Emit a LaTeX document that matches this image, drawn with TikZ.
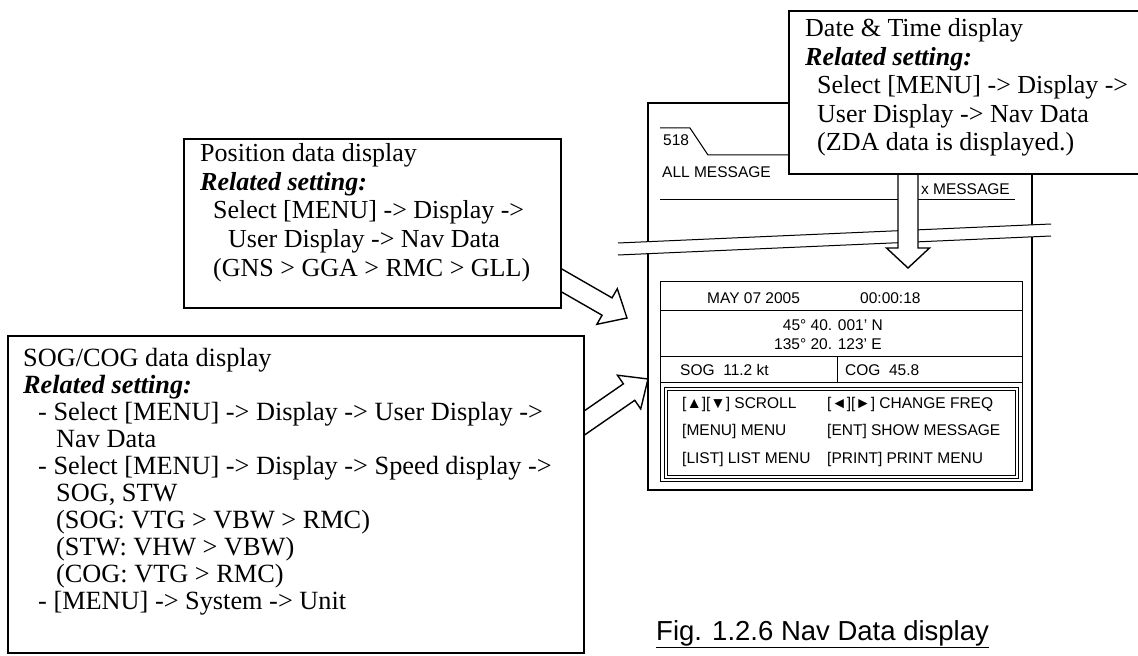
\documentclass[tikz,border=0pt]{standalone}
\usepackage{fontspec}
\setmainfont{Liberation Serif}
\newfontfamily\arialf{Liberation Sans}
\usetikzlibrary{calc}
\newcommand\boxfont{\fontsize{26bp}{28.5bp}\selectfont}
\newcommand\sogfont{\fontsize{26.3bp}{27bp}\selectfont}
\newcommand\dispfont{\arialf\fontsize{15.5bp}{18bp}\selectfont}
\newcommand\capfont{\arialf\fontsize{27.5bp}{31bp}\selectfont}
\newcommand\bfit[1]{\textbf{\textit{#1}}}
\newcommand\linestack[2]{\vtop{\baselineskip=#1\lineskiplimit=-100bp\lineskip=0bp #2}}
\newcommand\blockarrow[5]{%
  \coordinate (bA) at ($(#2)!#5!(#1)$);
  \draw[barrow] ($(#1)!#3!90:(#2)$) -- ($(bA)!#3!-90:(#1)$) -- ($(bA)!#4!-90:(#1)$) -- (#2)
    -- ($(bA)!#4!90:(#1)$) -- ($(bA)!#3!90:(#1)$) -- ($(#1)!#3!-90:(#2)$) -- cycle;
}
\tikzset{
  frameline/.style={draw=black, line width=1.2bp},
  thinline/.style={draw=black, line width=1bp},
  tbox/.style={draw=black, line width=1.6bp, fill=white, inner sep=0pt, anchor=north west},
  barrow/.style={draw=black, line width=1.4bp, fill=white, line join=miter},
  dtext/.style={font=\dispfont, inner sep=0pt, anchor=base west},
  btext/.style={font=\boxfont, inner sep=0pt, anchor=base west},
}
\begin{document}
\begin{tikzpicture}[x=1bp,y=-1bp]
\useasboundingbox (0,0) rectangle (1138,656);
% ---------- display unit ----------
\draw[frameline, fill=white] (648,103) rectangle (1032,490);
\draw[thinline] (660,128) -- (690,128) -- (708,155) -- (1020,155);
\node[dtext] (t518) at (663,146) {518};
\node[dtext] (tall) at (662,178) {ALL MESSAGE};
\node[dtext, anchor=base east] (txm) at (1010,195) {x MESSAGE};
\draw[thinline] (660,199) -- (1015,199);
% inner display
\draw[thinline] (660,281) rectangle (1022,481);
\draw[thinline] (660,310) -- (1022,310);
\draw[thinline] (660,356) -- (1022,356);
\draw[thinline] (660,382) -- (1022,382);
\draw[thinline] (837,356) -- (837,382);
\draw[thinline] (664,387) rectangle (1018,478);
\draw[thinline] (667,390) rectangle (1015,475);
\node[dtext] (tdate) at (707,303) {MAY 07 2005};
\node[dtext] (ttime) at (860,303) {00:00:18};
\node[dtext, anchor=base east] (tlat) at (883,330) {45° 40. 001’ N};
\node[dtext, anchor=base east] (tlon) at (882,349) {135° 20. 123’ E};
\node[dtext] (tsog) at (680,375) {SOG\ \ 11.2 kt};
\node[dtext] (tcog) at (845,375) {COG\ \ 45.8};
\node[dtext] (k1) at (682,408) {[▲][▼] SCROLL};
\node[dtext] (k2) at (827,408) {[◄][►] CHANGE FREQ};
\node[dtext] (k3) at (682,435) {[MENU] MENU};
\node[dtext] (k4) at (827,435) {[ENT] SHOW MESSAGE};
\node[dtext] (k5) at (682,463) {[LIST] LIST MENU};
\node[dtext] (k6) at (827,463) {[PRINT] PRINT MENU};
% break
\fill[white] (618,243) -- (1051,224) -- (1051,236) -- (618,255) -- cycle;
\draw[thinline] (618,243) -- (1051,224);
\draw[thinline] (618,255) -- (1051,236);
% ---------- block arrows ----------
\coordinate (dS) at (908,160);
\coordinate (dT) at (908,268);
\blockarrow{dS}{dT}{10bp}{21.5bp}{20bp}
\coordinate (pS) at (540,268);
\coordinate (pT) at (627,318);
\blockarrow{pS}{pT}{10bp}{20.5bp}{23bp}
\coordinate (sS) at (563,437.7);
\coordinate (sT) at (648,379);
\blockarrow{sS}{sT}{10bp}{20.5bp}{23bp}
% ---------- text boxes ----------
\node[tbox, minimum width=362bp, minimum height=163bp] (dbox) at (788,10) {};
\node[btext] (dtxt) at (805,37) {\linestack{28.5bp}{%
  \hbox{Date \& Time display}
  \hbox{\bfit{Related setting:}}
  \hbox{\kern12bp Select [MENU] -> Display ->}
  \hbox{\kern12bp User Display -> Nav Data}
  \hbox{\kern12bp (ZDA data is displayed.)}}};
\node[tbox, minimum width=377bp, minimum height=169bp] (pbox) at (183,138) {};
\node[btext] (ptxt) at (200,162) {\linestack{28.5bp}{%
  \hbox{Position data display}
  \hbox{\bfit{Related setting:}}
  \hbox{\kern13bp Select [MENU] -> Display ->}
  \hbox{\kern28bp User Display -> Nav Data}
  \hbox{\kern13bp (GNS > GGA > RMC > GLL)}}};
\node[tbox, minimum width=576bp, minimum height=317bp] (sbox) at (7,335) {};
\node[btext, font=\sogfont] (stxt) at (23,366) {\linestack{27bp}{%
  \hbox{SOG/COG data display}
  \hbox{\bfit{Related setting:}}
  \hbox{\kern15bp - Select [MENU] -> Display -> User Display ->}
  \hbox{\kern33bp Nav Data}
  \hbox{\kern15bp - Select [MENU] -> Display -> Speed display ->}
  \hbox{\kern33bp SOG, STW}
  \hbox{\kern33bp (SOG: VTG > VBW > RMC)}
  \hbox{\kern33bp (STW: VHW > VBW)}
  \hbox{\kern33bp (COG: VTG > RMC)}
  \hbox{\kern15bp - [MENU] -> System -> Unit}}};
% ---------- caption ----------
\node[font=\capfont, inner sep=0pt, anchor=base west] (cap) at (656,640) {\underline{Fig. 1.2.6 Nav Data display}};
\end{tikzpicture}
\end{document}
